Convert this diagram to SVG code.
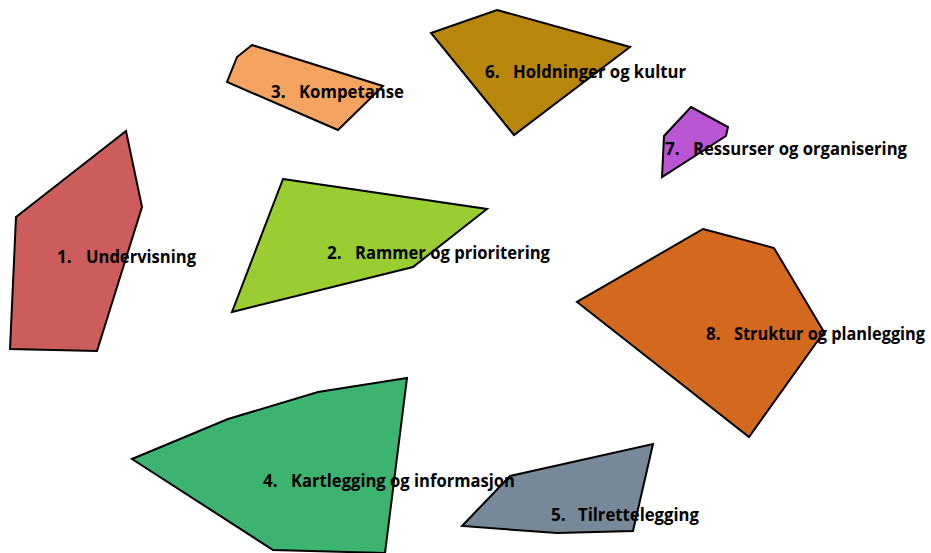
<svg xmlns="http://www.w3.org/2000/svg" width="931" height="553" viewBox="0 0 931 553">
<style>
.p{stroke:#000;stroke-width:2;stroke-linejoin:miter}
.t{font-family:"Open Sans","Liberation Sans",sans-serif;font-weight:bold;font-size:17px;fill:#000}
</style>
<rect width="931" height="553" fill="#fff"/>
<g id="node1"><polygon class="p" fill="#CD5C5C" points="126,131 142,207 97,351 10,349 16,217"/></g>
<g id="node3"><polygon class="p" fill="#F4A460" points="252,45 383,86 338,130 227,82 237,57"/></g>
<g id="node6"><polygon class="p" fill="#B8860B" points="497,10 630,47 514,135 431,33"/></g>
<g id="node7"><polygon class="p" fill="#BA55D3" points="691,107 728,127 726,136 662,177 664,136"/></g>
<g id="node2"><polygon class="p" fill="#9ACD32" points="283,179 487,209 413,267 232,312"/></g>
<g id="node8"><polygon class="p" fill="#D2691E" points="703,229 774,248 824,332 749,437 577,302"/></g>
<g id="node4"><polygon class="p" fill="#3CB371" points="407,378 318,392 228,419 132,459 273,550 385,553"/></g>
<g id="node5"><polygon class="p" fill="#778899" points="653,444 633,531 557,533 462,526 510,476"/></g>
<g id="labels">
<text class="t" y="263"><tspan x="57">1.</tspan><tspan x="86" textLength="110" lengthAdjust="spacingAndGlyphs">Undervisning</tspan></text>
<text class="t" y="259"><tspan x="327">2.</tspan><tspan x="355" textLength="195" lengthAdjust="spacingAndGlyphs">Rammer og prioritering</tspan></text>
<text class="t" y="98"><tspan x="271">3.</tspan><tspan x="299" textLength="105" lengthAdjust="spacingAndGlyphs">Kompetanse</tspan></text>
<text class="t" y="78"><tspan x="485">6.</tspan><tspan x="513" textLength="173" lengthAdjust="spacingAndGlyphs">Holdninger og kultur</tspan></text>
<text class="t" y="155"><tspan x="665">7.</tspan><tspan x="693" textLength="214" lengthAdjust="spacingAndGlyphs">Ressurser og organisering</tspan></text>
<text class="t" y="340"><tspan x="706">8.</tspan><tspan x="734" textLength="191" lengthAdjust="spacingAndGlyphs">Struktur og planlegging</tspan></text>
<text class="t" y="487"><tspan x="263">4.</tspan><tspan x="291" textLength="224" lengthAdjust="spacingAndGlyphs">Kartlegging og informasjon</tspan></text>
<text class="t" y="521"><tspan x="551">5.</tspan><tspan x="578" textLength="121" lengthAdjust="spacingAndGlyphs">Tilrettelegging</tspan></text>
</g>
</svg>
